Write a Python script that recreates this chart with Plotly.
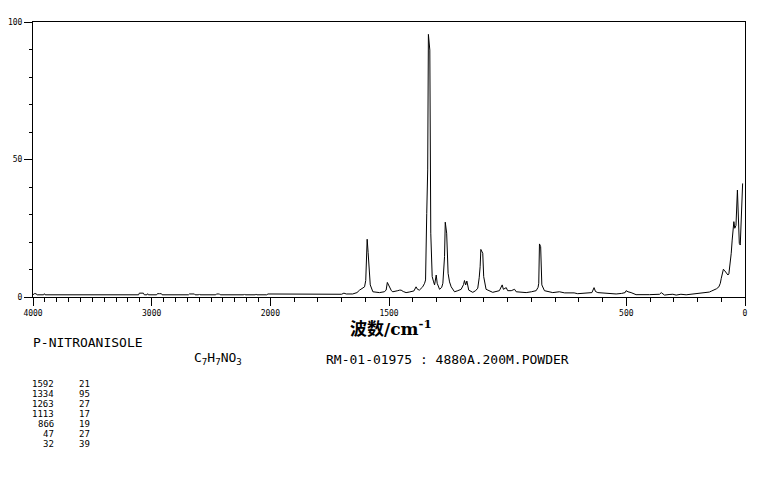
import plotly.graph_objects as go

# ---- data ----
wavenumber = [
    4000, 3990, 3975, 3965, 3910, 3904, 3898, 3110, 3104, 3085, 3070, 3062, 3040, 3034, 3028,
    2958, 2952, 2935, 2918, 2912, 2690, 2682, 2660, 2640, 2634, 2604, 2598, 2592, 2460, 2454,
    2440, 2428, 2422, 2224, 2218, 2212, 2126, 2120, 2114, 2030, 2020, 2010, 2000,
    1990, 1976, 1965, 1945, 1941, 1935, 1860, 1856, 1850, 1776, 1772, 1766, 1700, 1690, 1680,
    1653, 1635, 1624, 1612, 1603, 1598, 1595, 1592, 1588, 1583, 1579, 1568, 1540, 1520, 1512,
    1507, 1498, 1490, 1484, 1470, 1463, 1455, 1449, 1440, 1428, 1415, 1407, 1395, 1386, 1380,
    1372, 1365, 1358, 1350, 1346, 1341, 1337, 1334, 1328, 1324, 1318, 1312, 1308, 1301, 1297,
    1287, 1278, 1273, 1266, 1263, 1257, 1251, 1245, 1238, 1224, 1210, 1196, 1186, 1182, 1177,
    1172, 1164, 1147, 1135, 1126, 1120, 1116, 1113, 1105, 1101, 1095, 1091, 1063, 1035, 1023,
    1018, 1006, 1000, 985, 971, 964, 940, 922, 900, 880, 872, 869, 866, 861, 856,
    848, 845, 810, 782, 760, 720, 705, 680, 645, 636, 630, 620, 585, 560, 543,
    520, 505, 501, 493, 480, 470, 459, 402, 360, 353, 346, 339, 320, 304, 290,
    270, 248, 230, 210, 192, 175, 164, 150, 140, 129, 120, 110, 104, 100, 95,
    91, 85, 79, 72, 68, 62, 58, 54, 50, 47, 43, 38, 32, 29, 24,
    20, 15, 10,
]
intensity = [
    0.8, 1.2, 1.2, 0.8, 0.8, 1.2, 0.8, 0.8, 1.4, 1.5, 1.4, 0.8, 0.8, 1.2, 0.8,
    0.8, 1.2, 1.2, 1.2, 0.8, 0.8, 1.1, 1.1, 1.1, 0.8, 0.8, 1.1, 0.8, 0.8, 1.1,
    1.1, 1.1, 0.8, 0.8, 1.1, 0.8, 0.8, 1.1, 0.8, 0.8, 1.1, 1.1, 1.1,
    0.9, 1.1, 0.9, 0.9, 1.1, 0.9, 0.9, 1.1, 0.9, 0.9, 1.1, 0.9, 1.0, 1.4, 1.1,
    1.1, 1.6, 2.5, 3.2, 3.7, 6.0, 11.0, 21.0, 16.2, 8.0, 4.4, 1.9, 1.6, 1.9, 2.5,
    5.3, 3.7, 2.3, 1.9, 2.0, 2.3, 2.5, 2.5, 2.0, 1.6, 1.8, 1.9, 2.2, 3.7, 2.8,
    2.5, 3.0, 3.7, 5.0, 6.2, 30.4, 46.2, 95.5, 89.8, 23.2, 7.4, 5.5, 4.4, 8.0, 5.0,
    2.8, 3.5, 5.0, 14.7, 27.2, 23.2, 8.6, 5.5, 3.7, 1.9, 2.3, 2.8, 4.5, 6.0, 4.4,
    5.8, 2.5, 1.7, 2.3, 3.2, 7.0, 11.0, 17.3, 15.9, 7.4, 4.5, 2.8, 1.7, 2.3, 4.4,
    2.8, 3.4, 2.3, 2.3, 2.8, 1.9, 1.7, 1.6, 1.9, 2.3, 3.5, 5.0, 19.3, 18.3, 4.4,
    2.5, 2.3, 1.6, 1.9, 1.5, 1.5, 1.2, 1.3, 1.6, 3.4, 2.0, 1.6, 1.3, 1.1, 1.1,
    1.3, 1.6, 2.3, 1.9, 1.6, 1.1, 0.85, 0.85, 1.0, 1.6, 1.0, 0.7, 0.9, 1.0, 0.7,
    1.0, 0.8, 1.0, 1.1, 1.2, 1.4, 1.6, 1.8, 2.2, 2.5, 3.0, 3.7, 5.0, 6.8, 8.5,
    10.1, 9.5, 8.6, 8.0, 8.4, 12.0, 15.9, 20.7, 25.6, 27.4, 25.0, 26.0, 38.9, 29.2, 19.5,
    18.9, 28.6, 41.3,
]

x_tick_values = [4000, 3000, 2000, 1500, 500, 0]
x_tick_labels = ["4000", "3000", "2000", "1500", "500", "0"]
y_tick_values = [0, 50, 100]
y_tick_labels = ["0", "50", "100"]

peak_positions = ["1592", "1334", "1263", "1113", "866", "47", "32"]
peak_heights = ["21", "95", "27", "17", "19", "27", "39"]

compound_name = "P-NITROANISOLE"
formula = "C<sub>7</sub>H<sub>7</sub>NO<sub>3</sub>"
sample_info = "RM-01-01975 : 4880A.200M.POWDER"
x_title = "<b>波数/cm<sup>-1</sup></b>"


# axis is compressed by factor 2 above 2000 cm-1
def to_axis(w):
    return w if w <= 2000 else 2000 + (w - 2000) / 2.0


xs = [to_axis(w) for w in wavenumber]
minor_vals = [to_axis(v) for v in range(0, 4001, 100) if v not in x_tick_values]

fig = go.Figure()
fig.add_trace(go.Scatter(x=xs, y=intensity, mode="lines",
                         line=dict(color="black", width=1), hoverinfo="skip"))

mono = "DejaVu Sans Mono"
fig.update_layout(
    template="none",
    width=761, height=477,
    margin=dict(l=33, r=16, t=22, b=180, pad=0, autoexpand=False),
    paper_bgcolor="white", plot_bgcolor="white",
    showlegend=False,
    xaxis=dict(
        range=[3000, 0], showgrid=False, zeroline=False, automargin=False,
        showline=True, linecolor="black", linewidth=1, mirror=True,
        ticks="outside", ticklen=8, tickcolor="black", tickwidth=1,
        tickmode="array", tickvals=[to_axis(v) for v in x_tick_values], ticktext=x_tick_labels,
        tickfont=dict(family=mono, size=8, color="black"),
        minor=dict(tickmode="array", tickvals=minor_vals, ticks="outside", ticklen=4,
                   tickcolor="black", tickwidth=1, showgrid=False),
    ),
    yaxis=dict(
        range=[0, 100], showgrid=False, zeroline=False, automargin=False,
        showline=True, linecolor="black", linewidth=1, mirror=True,
        ticks="outside", ticklen=8, tickcolor="black", tickwidth=1,
        tickmode="array", tickvals=y_tick_values, ticktext=y_tick_labels,
        tickfont=dict(family=mono, size=8, color="black"),
        minor=dict(dtick=10, tick0=0, ticks="outside", ticklen=3,
                   tickcolor="black", tickwidth=1, showgrid=False),
    ),
)

W, H, L, T = 712.0, 275.0, 33.0, 22.0


def px(x):
    return (x - L) / W


def py(y):
    return (T + H - y) / H


ann = []
ann.append(dict(text=x_title, x=px(391), y=py(328), xanchor="center", yanchor="middle",
                font=dict(family="DejaVu Serif, Noto Sans CJK SC", size=17, color="black")))
ann.append(dict(text=compound_name, x=px(32), y=py(342.5), xanchor="left", yanchor="middle",
                font=dict(family=mono, size=13, color="black")))
ann.append(dict(text=formula, x=px(193), y=py(358), xanchor="left", yanchor="middle",
                font=dict(family=mono, size=13, color="black")))
ann.append(dict(text=sample_info, x=px(325), y=py(359), xanchor="left", yanchor="middle",
                font=dict(family=mono, size=13, color="black")))
for i, (p, h) in enumerate(zip(peak_positions, peak_heights)):
    yy = py(384 + 10 * i)
    ann.append(dict(text=p, x=px(55), y=yy, xanchor="right", yanchor="middle",
                    font=dict(family=mono, size=9, color="black")))
    ann.append(dict(text=h, x=px(78), y=yy, xanchor="left", yanchor="middle",
                    font=dict(family=mono, size=9, color="black")))
for a in ann:
    a.update(xref="paper", yref="paper", showarrow=False, borderpad=0)
fig.update_layout(annotations=ann)

fig.write_html("out.html", config={"displayModeBar": False},
               post_script="document.body.style.margin='0';")
